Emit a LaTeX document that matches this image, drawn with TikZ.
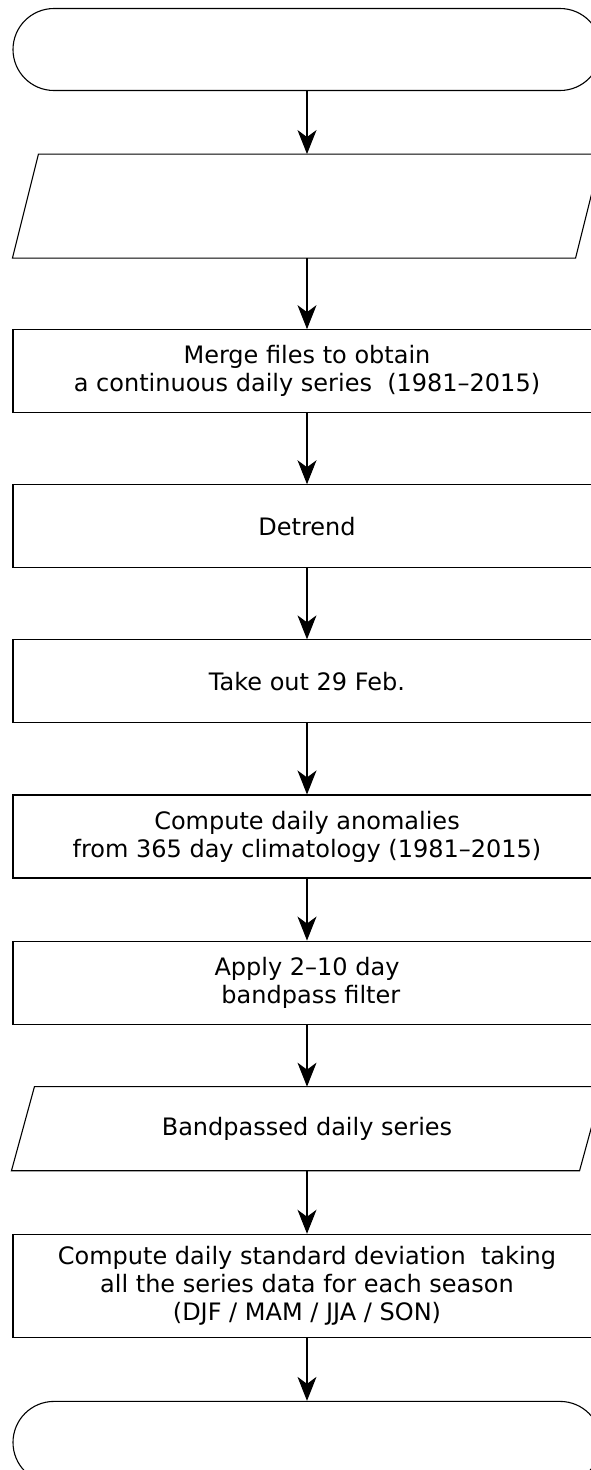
\documentclass[tikz,border=0pt]{standalone}
\usepackage{fontspec}
\setmainfont{DejaVu Sans}
\usetikzlibrary{positioning,shapes.misc,arrows.meta}

\begin{document}
\begin{tikzpicture}[line width=1.1pt, >={Stealth[length=24pt,width=19pt,inset=7pt]},
        base/.style = {minimum width=588pt, align=center, inner sep=3pt, font=\fontsize{24}{28}\selectfont},
        term/.style = {base, draw, rounded rectangle, minimum width=594pt, minimum height=82pt},
        io/.style = {base, rectangle, minimum height=103pt},
        proc/.style = {base, draw, rectangle, minimum height=83pt},
        node distance=63pt]
        \useasboundingbox (0,0) rectangle (591pt,-1470pt);
        \node[term] (start) at (307pt,-49.5pt) {};
        \node[io] (in) [below=of start] {};
        \node[proc] (merge) [below=71pt of in] {Merge files to obtain\\a continuous daily series\ \ (1981--2015)};
        \node[proc] (detrend) [below=71pt of merge] {Detrend};
        \node[proc] (feb) [below=71pt of detrend] {Take out 29 Feb.};
        \node[proc] (anom) [below=71pt of feb] {Compute daily anomalies\\from 365 day climatology (1981--2015)};
        \node[proc] (filter) [below=62pt of anom] {Apply 2--10 day\\\ bandpass filter};
        \node[io, minimum width=590pt, minimum height=83pt] (bandp) [below=62pt of filter] {Bandpassed daily series};
        \node[proc, minimum height=103pt] (std) [below=of bandp] {Compute daily standard deviation\ \ taking\\all the series data for each season\\(DJF / MAM / JJA / SON)};
        \node[term] (stop) [below=of std] {};
        % slanted data boxes
        \draw (in.south west) -- ([xshift=-26pt]in.south east) -- (in.north east) -- ([xshift=26pt]in.north west) -- cycle;
        \draw (bandp.south west) -- ([xshift=-23pt]bandp.south east) -- (bandp.north east) -- ([xshift=23pt]bandp.north west) -- cycle;
        \draw[->] (start) -- (in);
        \draw[->] (in) -- (merge);
        \draw[->] (merge) -- (detrend);
        \draw[->] (detrend) -- (feb);
        \draw[->] (feb) -- (anom);
        \draw[->] (anom) -- (filter);
        \draw[->] (filter) -- (bandp);
        \draw[->] (bandp) -- (std);
        \draw[->] (std) -- (stop);
\end{tikzpicture}
\end{document}
